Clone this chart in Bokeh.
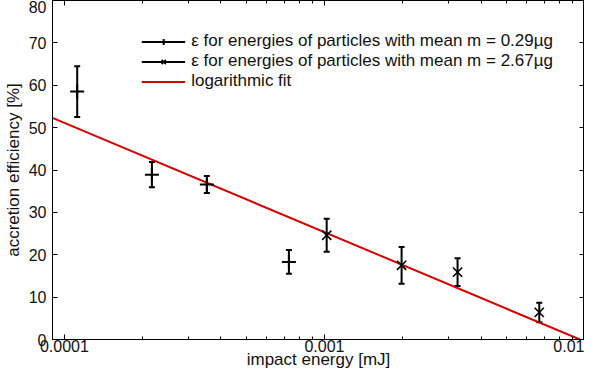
from bokeh.plotting import figure
from bokeh.models import (ColumnDataSource, Range1d, LogAxis, LinearAxis, FixedTicker,
                          Whisker, TeeHead, Legend, LegendItem, CustomJSTickFormatter)
from bokeh.embed import file_html
from bokeh.resources import INLINE

# ---- data ----
g1_energy = [1.12e-4, 2.17e-4, 3.53e-4, 7.3e-4]   # mJ
g1_eff = [58.5, 38.9, 36.6, 18.3]                  # %
g1_err = [6.0, 3.0, 2.0, 2.8]

g2_energy = [1.02e-3, 1.98e-3, 3.25e-3, 6.7e-3]
g2_eff = [24.6, 17.5, 15.9, 6.4]
g2_err = [3.9, 4.35, 3.3, 2.3]

fit_energy = [9e-5, 0.0096]
fit_eff = [52.3, 0.0]

x_major = [1e-4, 1e-3, 1e-2]
x_minor = [m * d for d in [1e-5, 1e-4, 1e-3] for m in range(2, 10)]
y_major = [0, 10, 20, 30, 40, 50, 60, 70, 80]

label1 = "\u03b5 for energies of particles with mean m = 0.29\u00b5g"
label2 = "\u03b5 for energies of particles with mean m = 2.67\u00b5g"
label3 = "logarithmic fit"

FONT = "Liberation Sans"

p = figure(width=584, height=371, x_axis_type="log",
           x_range=Range1d(9e-5, 1e-2), y_range=Range1d(0, 80),
           output_backend="svg", toolbar_location=None,
           min_border_left=47, min_border_right=0, min_border_top=0, min_border_bottom=0)
p.xgrid.visible = False
p.ygrid.visible = False
p.outline_line_color = "black"
p.outline_line_width = 1
p.background_fill_color = "white"

xt = FixedTicker(ticks=x_major, minor_ticks=x_minor)
yt = FixedTicker(ticks=y_major)
fmt = CustomJSTickFormatter(code="return tick.toString();")

xa = p.xaxis[0]
xa.ticker = xt
xa.formatter = fmt
xa.axis_label = "impact energy [mJ]"
ya = p.yaxis[0]
ya.ticker = yt
ya.axis_label = "accretion efficiency [%]"

for ax in (xa, ya):
    ax.major_tick_in = 5
    ax.major_tick_out = 0
    ax.minor_tick_in = 3
    ax.minor_tick_out = 0
    ax.axis_line_color = "black"
    ax.major_tick_line_color = "black"
    ax.minor_tick_line_color = "black"
    ax.major_label_text_font = FONT
    ax.major_label_text_font_size = "16px"
    ax.major_label_text_color = "#111111"
    ax.axis_label_text_font = FONT
    ax.axis_label_text_font_size = "17px"
    ax.axis_label_text_font_style = "normal"
    ax.axis_label_text_color = "#111111"
xa.major_label_standoff = 0
xa.axis_label_standoff = -5
ya.major_label_standoff = 6
ya.axis_label_standoff = 3
ya.minor_tick_line_color = None

top = LogAxis(ticker=xt, formatter=fmt, major_label_text_font_size="1px",
              major_label_text_color=None, major_label_standoff=0,
              major_tick_in=5, major_tick_out=0, minor_tick_in=3, minor_tick_out=0)
right = LinearAxis(ticker=yt, major_label_text_font_size="1px",
                   major_label_text_color=None, major_label_standoff=0,
                   major_tick_in=5, major_tick_out=0, minor_tick_line_color=None)
p.add_layout(top, "above")
p.add_layout(right, "right")

# fit line
fit_r = p.line(fit_energy, fit_eff, line_color="#d40000", line_width=2)

def add_group(energy, eff, err, marker, size, mlw):
    src = ColumnDataSource(dict(
        x=energy, y=eff,
        lo=[v - e for v, e in zip(eff, err)],
        hi=[v + e for v, e in zip(eff, err)]))
    seg = p.segment(x0="x", y0="lo", x1="x", y1="hi", source=src,
                    line_color="black", line_width=2)
    w = Whisker(base="x", lower="lo", upper="hi", source=src, dimension="height",
                line_alpha=0,
                upper_head=TeeHead(size=6, line_color="black", line_width=2),
                lower_head=TeeHead(size=6, line_color="black", line_width=2))
    p.add_layout(w)
    m = p.scatter("x", "y", source=src, marker=marker, size=size,
                  line_color="black", line_width=mlw)
    return seg, m

s1, m1 = add_group(g1_energy, g1_eff, g1_err, "cross", 14, 2)
s2, m2 = add_group(g2_energy, g2_eff, g2_err, "x", 13, 1.6)

legend = Legend(items=[
    LegendItem(label=label1, renderers=[s1, m1]),
    LegendItem(label=label2, renderers=[s2, m2]),
    LegendItem(label=label3, renderers=[fit_r]),
], location="top_right", border_line_alpha=0, background_fill_alpha=0,
    label_text_font=FONT, label_text_font_size="17px", label_text_color="#111111",
    glyph_width=44, glyph_height=15, label_height=15, spacing=0, padding=5,
    margin=26, label_standoff=6)
p.add_layout(legend)

open("out.html", "w").write(file_html(p, INLINE))
